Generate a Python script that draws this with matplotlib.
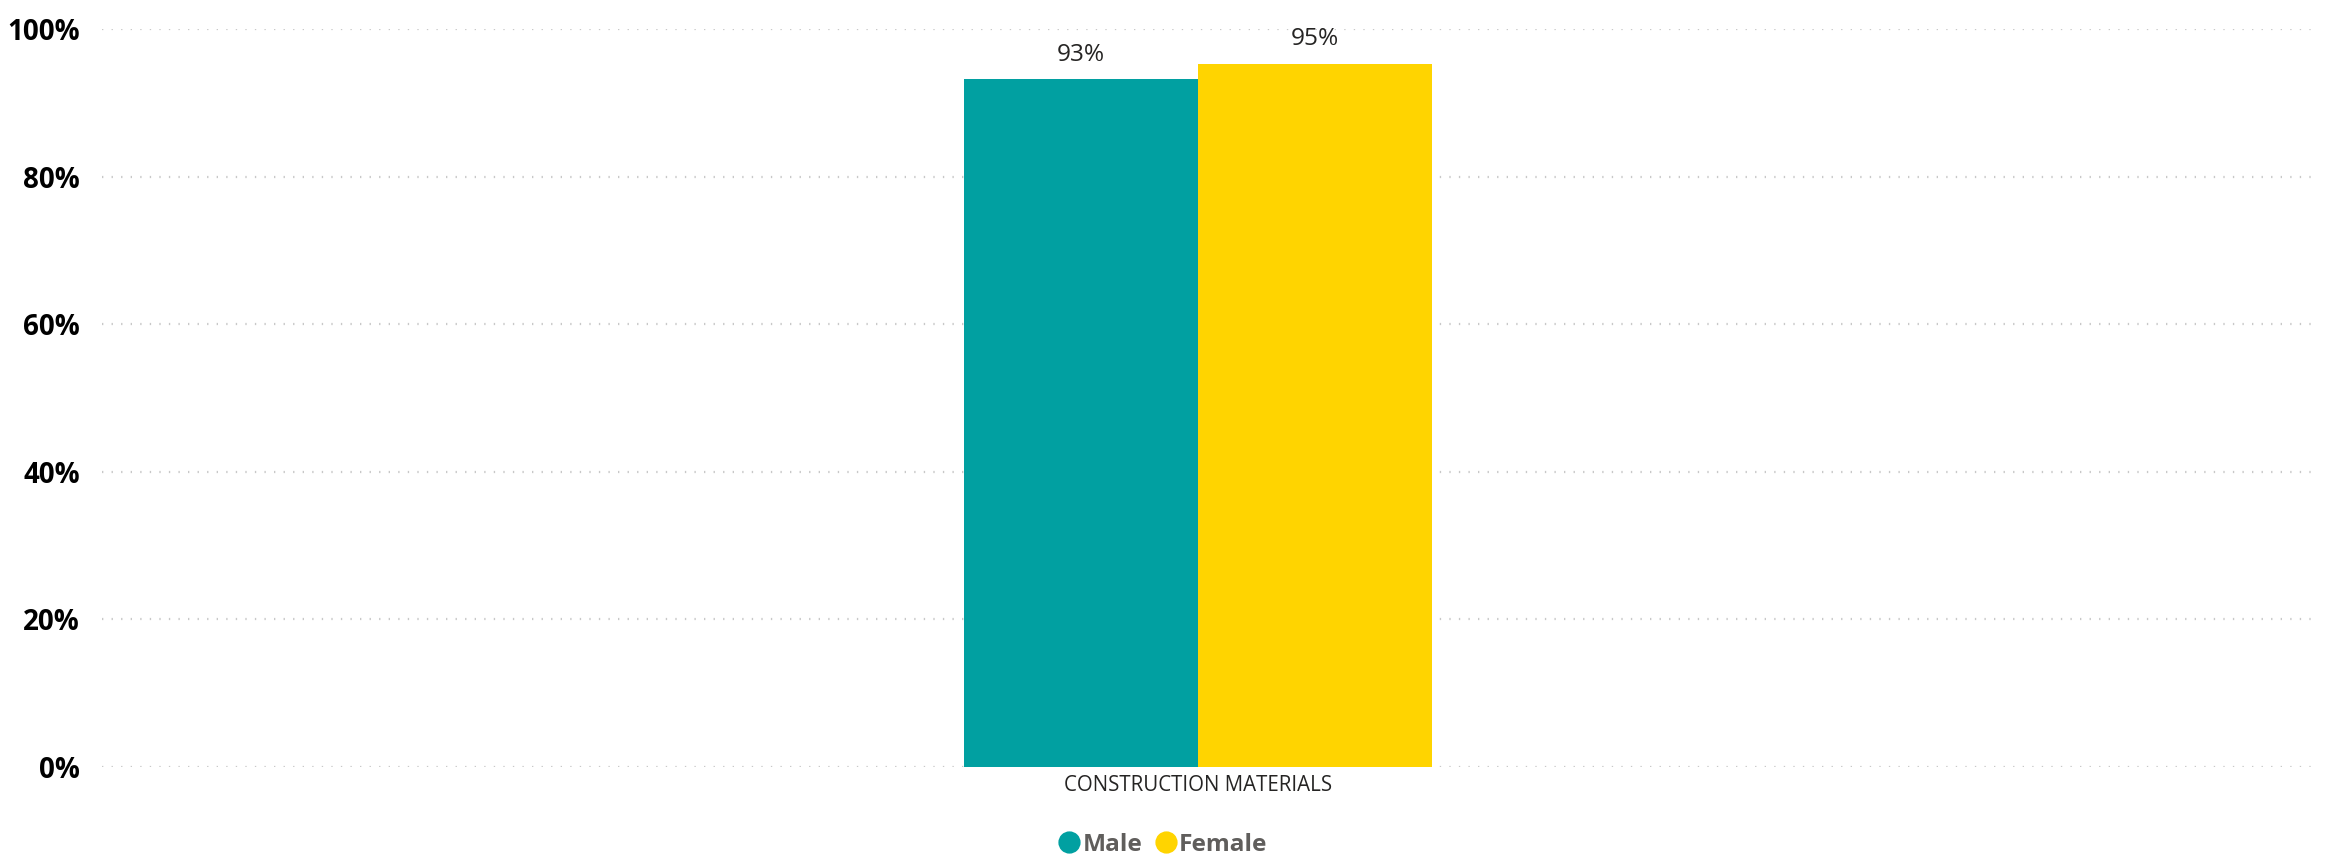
import matplotlib.pyplot as plt
from matplotlib.ticker import PercentFormatter
from matplotlib.lines import Line2D
import numpy as np

plt.rcParams['font.family'] = ['Open Sans', 'DejaVu Sans']

categories = ['CONSTRUCTION MATERIALS']
series = ['Male', 'Female']
values = {'Male': [0.932], 'Female': [0.953]}
labels = {'Male': ['93%'], 'Female': ['95%']}
colors = {'Male': '#01A0A1', 'Female': '#FFD400'}
yticks = [0, 0.2, 0.4, 0.6, 0.8, 1.0]

fig = plt.figure(figsize=(11.65, 4.32), dpi=200)
ax = fig.add_axes([0.0438, 0.1123, 0.951, 0.8541])

x = np.arange(len(categories))
w = 0.1057
for i, s in enumerate(series):
    pos = x + (i - 0.5) * w
    bars = ax.bar(pos, values[s], width=w, color=colors[s], zorder=3)
    for b, lab in zip(bars, labels[s]):
        ax.annotate(lab, (b.get_x() + b.get_width() / 2, b.get_height()),
                    xytext=(0, 4.5), textcoords='offset points',
                    ha='center', va='bottom', fontsize=8.8, color='#252423')

ax.set_xlim(-0.4946, 0.5054)
ax.set_ylim(0, 1)
ax.set_yticks(yticks)
ax.yaxis.set_major_formatter(PercentFormatter(1.0, decimals=0))
ax.set_xticks(x)
ax.set_xticklabels(categories, fontsize=7.4, color='#252423')
for t in ax.get_yticklabels():
    t.set_fontweight('bold')
    t.set_fontsize(10)
    t.set_color('black')
ax.tick_params(axis='y', length=0, pad=8)
ax.tick_params(axis='x', length=0, pad=3)
ax.grid(axis='y', color='#c8c8c8', linestyle=(0, (0.6, 3.7)), linewidth=0.8, zorder=0)
for sp in ax.spines.values():
    sp.set_visible(False)

handles = [Line2D([], [], marker='o', linestyle='', markersize=7,
                  markerfacecolor=colors[s], markeredgecolor=colors[s]) for s in series]
leg = fig.legend(handles, series, loc='center', bbox_to_anchor=(0.4985, 0.022),
                 ncol=2, frameon=False, handletextpad=0.0, columnspacing=0.4,
                 handlelength=1.1, prop={'weight': 'bold', 'size': 8.8})
for t in leg.get_texts():
    t.set_color('#605E5C')

fig.savefig('out.png', dpi=200)
